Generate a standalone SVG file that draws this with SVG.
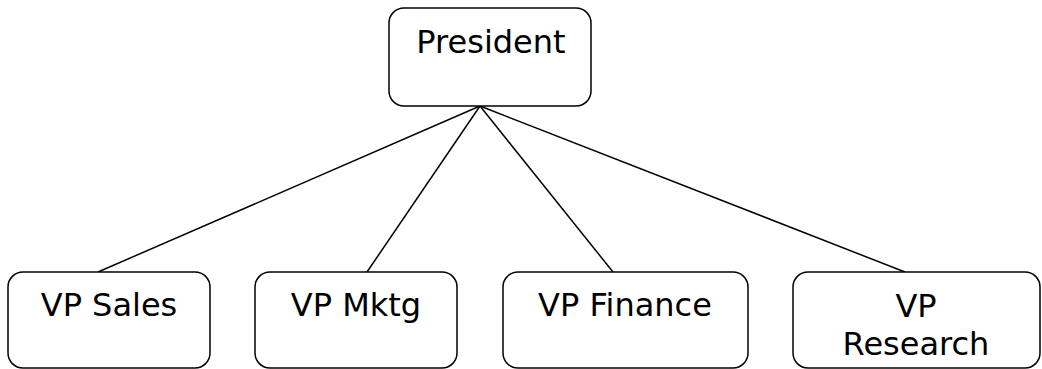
<svg xmlns="http://www.w3.org/2000/svg" width="1042" height="369" viewBox="0 0 1042 369">
  <style>
    .box { fill: #ffffff; stroke: #000000; stroke-width: 1.5; }
    .lbl { font-family: "DejaVu Sans", Verdana, sans-serif; font-size: 32px; fill: #000000; text-anchor: middle; }
    .edge { stroke: #000000; stroke-width: 1.5; fill: none; }
  </style>
  <rect width="1042" height="369" fill="#ffffff"/>
  <g id="connectors">
    <line class="edge" x1="480" y1="106" x2="98" y2="272"/>
    <line class="edge" x1="480" y1="106" x2="367" y2="272"/>
    <line class="edge" x1="480" y1="106" x2="613" y2="272"/>
    <line class="edge" x1="480" y1="106" x2="905" y2="272"/>
  </g>
  <g id="president">
    <rect class="box" x="389" y="8" width="202" height="98" rx="15"/>
    <text class="lbl" x="491" y="53">President</text>
  </g>
  <g id="vp-sales">
    <rect class="box" x="8" y="272" width="202" height="96" rx="15"/>
    <text class="lbl" x="109" y="316">VP Sales</text>
  </g>
  <g id="vp-mktg">
    <rect class="box" x="255" y="272" width="202" height="96" rx="15"/>
    <text class="lbl" x="356" y="316">VP Mktg</text>
  </g>
  <g id="vp-finance">
    <rect class="box" x="503" y="272" width="245" height="96" rx="15"/>
    <text class="lbl" x="625" y="316">VP Finance</text>
  </g>
  <g id="vp-research">
    <rect class="box" x="793" y="272" width="247" height="96" rx="15"/>
    <text class="lbl" x="916" y="317">VP</text>
    <text class="lbl" x="916" y="355">Research</text>
  </g>
</svg>
